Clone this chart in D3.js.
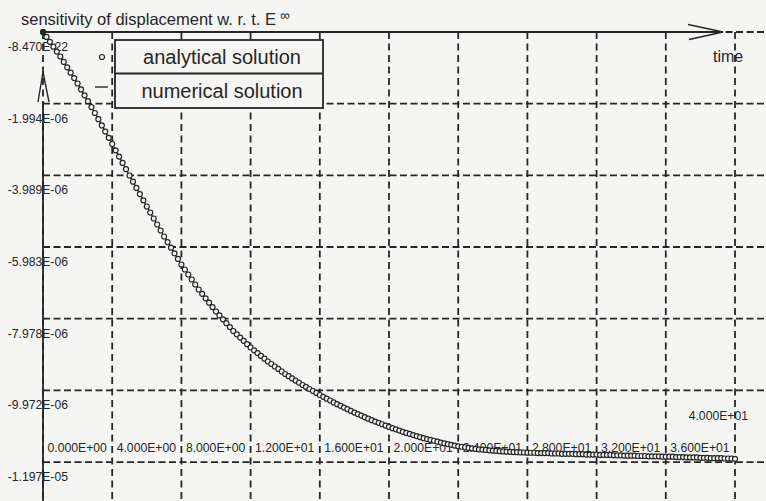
<!DOCTYPE html>
<html>
<head>
<meta charset="utf-8">
<script src="https://cdn.jsdelivr.net/npm/d3@7"></script>
<style>
  html, body { margin: 0; padding: 0; background: #f5f5f3; }
  svg { display: block; font-family: "Liberation Sans", Arial, sans-serif; }
</style>
</head>
<body>
<svg id="chart" width="766" height="501"></svg>
<script>
// Sampling interval of the solution (time units)
const timeStep = 0.2;

// Sensitivity of displacement w.r.t. E-infinity, in units of 1e-6, one value per time step
const sensitivityMicro = [
  0, -0.136, -0.273, -0.409, -0.545, -0.682, -0.832, -0.982, -1.133, -1.283, -1.433,
  -1.597, -1.762, -1.926, -2.090, -2.254, -2.427, -2.599, -2.772, -2.944, -3.117,
  -3.292, -3.467, -3.643, -3.818, -3.993, -4.166, -4.339, -4.511, -4.684, -4.856,
  -5.023, -5.190, -5.357, -5.524, -5.691, -5.847, -6.003, -6.159, -6.314, -6.470,
  -6.609, -6.749, -6.888, -7.027, -7.166, -7.288, -7.411, -7.533, -7.656, -7.778,
  -7.887, -7.995, -8.104, -8.212, -8.321, -8.413, -8.505, -8.596, -8.688, -8.780,
  -8.858, -8.936, -9.014, -9.092, -9.170, -9.239, -9.309, -9.378, -9.448, -9.518,
  -9.579, -9.640, -9.701, -9.762, -9.824, -9.879, -9.935, -9.991, -10.046, -10.102,
  -10.152, -10.205, -10.255, -10.308, -10.358, -10.405, -10.453, -10.497, -10.545, -10.592,
  -10.634, -10.675, -10.720, -10.762, -10.803, -10.842, -10.878, -10.917, -10.954, -10.992,
  -11.026, -11.059, -11.093, -11.126, -11.159, -11.187, -11.218, -11.246, -11.276, -11.304,
  -11.329, -11.354, -11.376, -11.401, -11.427, -11.446, -11.468, -11.488, -11.510, -11.530,
  -11.543, -11.557, -11.574, -11.588, -11.602, -11.613, -11.621, -11.632, -11.641, -11.652,
  -11.657, -11.666, -11.672, -11.680, -11.685, -11.691, -11.694, -11.699, -11.702, -11.708,
  -11.71, -11.71, -11.72, -11.72, -11.72, -11.72, -11.73, -11.73, -11.73, -11.74,
  -11.74, -11.74, -11.74, -11.75, -11.75, -11.75, -11.76, -11.76, -11.76, -11.76,
  -11.77, -11.77, -11.77, -11.77, -11.78, -11.78, -11.78, -11.79, -11.79, -11.79,
  -11.79, -11.80, -11.80, -11.80, -11.81, -11.81, -11.81, -11.81, -11.82, -11.82,
  -11.82, -11.82, -11.83, -11.83, -11.83, -11.84, -11.84, -11.84, -11.84, -11.85,
  -11.85, -11.85, -11.86, -11.86, -11.86, -11.86, -11.87, -11.87, -11.87, -11.88
];

// Time axis ticks
const timeTicks = [0, 4, 8, 12, 16, 20, 24, 28, 32, 36, 40];
const timeTickLabels = ["0.000E+00", "4.000E+00", "8.000E+00", "1.200E+01", "1.600E+01",
  "2.000E+01", "2.400E+01", "2.800E+01", "3.200E+01", "3.600E+01", "4.000E+01"];

// Sensitivity axis ticks
const valueTicks = [-8.470e-22, -1.994e-6, -3.989e-6, -5.983e-6, -7.978e-6, -9.972e-6, -1.197e-5];
const valueTickLabels = ["-8.470E-22", "-1.994E-06", "-3.989E-06", "-5.983E-06",
  "-7.978E-06", "-9.972E-06", "-1.197E-05"];

const seriesNames = ["analytical solution", "numerical solution"];

const ink = "#262626";
const paper = "#f5f5f3";

const points = sensitivityMicro.map((v, i) => ({ t: i * timeStep, v: v * 1e-6 }));

const svg = d3.select("#chart");
const W = 766, H = 501;

const x = d3.scaleLinear().domain([0, 40]).range([43, 735]);
const y = d3.scaleLinear().domain([0, -1.1967e-5]).range([32, 462]);

svg.append("rect").attr("width", W).attr("height", H).attr("fill", paper);

// dashed grid
const grid = svg.append("g").attr("stroke", ink).attr("stroke-width", 1.8).attr("fill", "none");
grid.selectAll("line.h").data(valueTicks).join("line")
  .attr("class", "h")
  .attr("x1", x(0)).attr("x2", W)
  .attr("y1", d => y(d)).attr("y2", d => y(d))
  .attr("stroke-dasharray", "7,3.5");
grid.selectAll("line.v").data(timeTicks).join("line")
  .attr("class", "v")
  .attr("x1", d => x(d)).attr("x2", d => x(d))
  .attr("y1", y(0)).attr("y2", H)
  .attr("stroke-dasharray", "7,4.5");

// axes with arrow heads
const axes = svg.append("g").attr("stroke", ink).attr("stroke-width", 1.8).attr("fill", "none");
axes.append("line").attr("x1", x(0)).attr("x2", 723).attr("y1", y(0)).attr("y2", y(0));
axes.append("polyline").attr("points", `688,24.5 723,${y(0)} 689,39.5`).attr("stroke-width", 1.4);
axes.append("line").attr("x1", x(0)).attr("x2", x(0)).attr("y1", 102).attr("y2", H);
axes.append("polyline").attr("points", `38,102 ${x(0)},72 49,102`).attr("stroke-width", 1.4);

// title and axis names
const title = svg.append("text").attr("x", 21).attr("y", 25)
  .attr("font-size", 16.5).attr("fill", ink);
title.append("tspan").text("sensitivity of displacement w. r. t. E");
title.append("tspan").attr("dx", 4).attr("dy", -5).attr("font-size", 13.5).text("\u221E");

svg.append("text").attr("x", 713).attr("y", 62).attr("font-size", 16).attr("fill", ink).text("time");

// y tick labels
svg.append("g").selectAll("text").data(valueTicks).join("text")
  .attr("x", 68).attr("y", d => y(d) + 19)
  .attr("text-anchor", "end").attr("font-size", 12.2).attr("fill", ink)
  .text((d, i) => valueTickLabels[i]);

// x tick labels
svg.append("g").selectAll("text").data(timeTicks).join("text")
  .attr("x", (d, i) => i === timeTicks.length - 1 ? 748 : x(d) + 4.5)
  .attr("y", (d, i) => i === timeTicks.length - 1 ? 420 : 452)
  .attr("text-anchor", (d, i) => i === timeTicks.length - 1 ? "end" : "start")
  .attr("font-size", 12.2).attr("fill", ink)
  .text((d, i) => timeTickLabels[i]);

// numerical solution line
svg.append("path").datum(points)
  .attr("fill", "none").attr("stroke", ink).attr("stroke-width", 1.4)
  .attr("d", d3.line().x(d => x(d.t)).y(d => y(d.v)));

// analytical solution markers
svg.append("g").selectAll("circle").data(points).join("circle")
  .attr("cx", d => x(d.t)).attr("cy", d => y(d.v)).attr("r", 2.5)
  .attr("fill", paper).attr("stroke", ink).attr("stroke-width", 1.2);
svg.append("circle").attr("cx", x(points[0].t)).attr("cy", y(points[0].v)).attr("r", 3)
  .attr("fill", ink);

// legend
const legend = svg.append("g");
legend.append("rect").attr("x", 115).attr("y", 40).attr("width", 208).attr("height", 68)
  .attr("fill", paper).attr("stroke", ink).attr("stroke-width", 1.8);
legend.append("line").attr("x1", 115).attr("x2", 323).attr("y1", 73.5).attr("y2", 73.5)
  .attr("stroke", ink).attr("stroke-width", 1.8);
legend.append("circle").attr("cx", 102).attr("cy", 57).attr("r", 2.5)
  .attr("fill", paper).attr("stroke", ink).attr("stroke-width", 1.2);
legend.append("line").attr("x1", 95).attr("x2", 108).attr("y1", 87).attr("y2", 87)
  .attr("stroke", ink).attr("stroke-width", 1.4);
legend.selectAll("text.lbl").data(seriesNames).join("text")
  .attr("class", "lbl")
  .attr("x", 222).attr("y", (d, i) => 64 + i * 33.5)
  .attr("text-anchor", "middle").attr("font-size", 20).attr("fill", ink)
  .text(d => d);
</script>
</body>
</html>
